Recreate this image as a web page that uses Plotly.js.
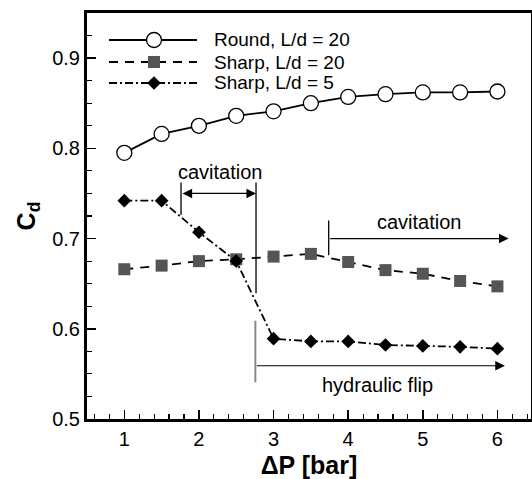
<!DOCTYPE html>
<html>
<head>
<meta charset="utf-8">
<script src="https://cdn.plot.ly/plotly-3.0.1.min.js"></script>
<style>html,body{margin:0;padding:0;background:#fff;}#chart{width:532px;height:479px;}</style>
</head>
<body>
<div id="chart"></div>
<script>
// Data
const deltaP = [1, 1.5, 2, 2.5, 3, 3.5, 4, 4.5, 5, 5.5, 6];
const roundLd20 = [0.795, 0.816, 0.825, 0.836, 0.841, 0.850, 0.857, 0.860, 0.862, 0.862, 0.863];
const sharpLd20 = [0.666, 0.670, 0.675, 0.677, 0.680, 0.683, 0.674, 0.665, 0.661, 0.653, 0.647];
const sharpLd5  = [0.742, 0.742, 0.707, 0.675, 0.589, 0.586, 0.586, 0.582, 0.581, 0.580, 0.578];
const seriesNames = ["Round, L/d = 20", "Sharp, L/d = 20", "Sharp, L/d = 5"];

// Annotation regions (ΔP, Cd)
const cav1 = {x0: 1.76, x1: 2.765, yArrow: 0.750, yTop: 0.762, yLeftBot: 0.726, yRightBot: 0.6395, label: "cavitation", lx: 2.29, ly: 0.774};
const cav2 = {x0: 3.739, x1: 6.15, yArrow: 0.700, yTop: 0.720, yBot: 0.6816, label: "cavitation", lx: 4.95, ly: 0.7185};
const flip = {x0: 2.756, x1: 6.10, yArrow: 0.559, yTop: 0.609, yBot: 0.5406, label: "hydraulic flip", lx: 4.39, ly: 0.5375};

const FONT = "Liberation Sans, Arial, Helvetica, sans-serif";
const TXT = 19;

const styles = [
  {line: {color: "#000", width: 1.8, dash: "solid"},
   marker: {symbol: "circle", size: 15, color: "#fff", line: {color: "#000", width: 1.3}}},
  {line: {color: "#000", width: 1.8, dash: "9px,7px"},
   marker: {symbol: "square", size: 12, color: "#555555", line: {width: 0}}},
  {line: {color: "#000", width: 1.8, dash: "8px,3px,2px,3px"},
   marker: {symbol: "diamond", size: 10.5, color: "#000", line: {width: 0}}}
];
const seriesY = [roundLd20, sharpLd20, sharpLd5];

const traces = seriesY.map((ys, i) => ({
  x: deltaP, y: ys, name: seriesNames[i], mode: "lines+markers",
  line: styles[i].line, marker: styles[i].marker, showlegend: false
}));

const shapes = [
  {type: "line", xref: "x", yref: "y", x0: cav1.x0, x1: cav1.x0, y0: cav1.yTop, y1: cav1.yLeftBot, line: {color: "#000", width: 1.3}},
  {type: "line", xref: "x", yref: "y", x0: cav1.x1, x1: cav1.x1, y0: cav1.yTop, y1: cav1.yRightBot, line: {color: "#000", width: 1.3}},
  {type: "line", xref: "x", yref: "y", x0: cav2.x0, x1: cav2.x0, y0: cav2.yTop, y1: cav2.yBot, line: {color: "#000", width: 1.3}},
  {type: "line", xref: "x", yref: "y", x0: flip.x0, x1: flip.x0, y0: flip.yTop, y1: flip.yBot, line: {color: "#888", width: 2}}
];

const annotations = [
  {xref: "x", yref: "y", axref: "x", ayref: "y", x: cav1.x1, y: cav1.yArrow, ax: cav1.x0, ay: cav1.yArrow,
   text: "", showarrow: true, arrowhead: 2, startarrowhead: 2, arrowside: "end+start", arrowsize: 1.6, arrowwidth: 1.2, arrowcolor: "#000"},
  {xref: "x", yref: "y", x: cav1.lx, y: cav1.ly, text: cav1.label, showarrow: false, font: {family: FONT, size: TXT + 1, color: "#000"}},
  {xref: "x", yref: "y", axref: "x", ayref: "y", x: cav2.x1, y: cav2.yArrow, ax: cav2.x0, ay: cav2.yArrow,
   text: "", showarrow: true, arrowhead: 2, arrowsize: 1.6, arrowwidth: 1.2, arrowcolor: "#000"},
  {xref: "x", yref: "y", x: cav2.lx, y: cav2.ly, text: cav2.label, showarrow: false, font: {family: FONT, size: TXT + 1, color: "#000"}},
  {xref: "x", yref: "y", axref: "x", ayref: "y", x: flip.x1, y: flip.yArrow, ax: flip.x0, ay: flip.yArrow,
   text: "", showarrow: true, arrowhead: 2, arrowsize: 1.6, arrowwidth: 1.2, arrowcolor: "#000"},
  {xref: "x", yref: "y", x: flip.lx, y: flip.ly, text: flip.label, showarrow: false, font: {family: FONT, size: TXT + 1, color: "#000"}}
];

// Custom legend (paper coordinates) built from the series styles and names
const legendRows = [0.9335, 0.8793, 0.8276];
const legLine = [0.0495, 0.2477], legMarkX = 0.1509, legTextX = 0.2815;
seriesNames.forEach((nm, i) => {
  const yy = legendRows[i];
  const st = styles[i];
  shapes.push({type: "line", xref: "paper", yref: "paper", x0: legLine[0], x1: legLine[1], y0: yy, y1: yy,
               line: {color: st.line.color, width: st.line.width, dash: st.line.dash}});
  const s = st.marker.size;
  const base = {xref: "paper", yref: "paper", xsizemode: "pixel", ysizemode: "pixel", xanchor: legMarkX, yanchor: yy};
  if (st.marker.symbol === "circle") {
    shapes.push(Object.assign({type: "circle", x0: -s/2, x1: s/2, y0: -s/2, y1: s/2,
      fillcolor: st.marker.color, line: {color: st.marker.line.color, width: st.marker.line.width}}, base));
  } else if (st.marker.symbol === "square") {
    shapes.push(Object.assign({type: "rect", x0: -s/2, x1: s/2, y0: -s/2, y1: s/2,
      fillcolor: st.marker.color, line: {width: 0}}, base));
  } else {
    const r = s * 0.65;
    shapes.push(Object.assign({type: "path", path: `M${-r},0L0,${r}L${r},0L0,${-r}Z`,
      fillcolor: st.marker.color, line: {width: 0}}, base));
  }
  annotations.push({xref: "paper", yref: "paper", x: legTextX, y: yy, xanchor: "left", yanchor: "middle",
    text: nm, showarrow: false, font: {family: FONT, size: TXT, color: "#000"}});
});

const layout = {
  width: 532, height: 479,
  margin: {l: 87, r: 1, t: 13, b: 60, pad: 0},
  paper_bgcolor: "#fff", plot_bgcolor: "#fff",
  font: {family: FONT, size: TXT, color: "#000"},
  showlegend: false,
  xaxis: {range: [0.5, 6.45], dtick: 1, tick0: 0, ticks: "inside", ticklen: 9, tickwidth: 1.5, tickcolor: "#000",
          showline: true, linewidth: 3, linecolor: "#000", mirror: true, showgrid: false, zeroline: false,
          minor: {dtick: 0.2, ticks: "inside", ticklen: 5, tickwidth: 1.2, tickcolor: "#000", showgrid: false},
          tickfont: {family: FONT, size: TXT + 1}, automargin: false,
          title: {text: "<b>ΔP [bar]</b>", font: {family: FONT, size: 25}, standoff: 12}},
  yaxis: {range: [0.5, 0.95], dtick: 0.1, tick0: 0, tickformat: ".1f", ticks: "inside", ticklen: 9, tickwidth: 1.5, tickcolor: "#000",
          showline: true, linewidth: 3, linecolor: "#000", mirror: true, showgrid: false, zeroline: false,
          minor: {dtick: 0.025, ticks: "inside", ticklen: 5, tickwidth: 1.2, tickcolor: "#000", showgrid: false},
          tickfont: {family: FONT, size: TXT + 1}, automargin: false,
          title: {text: "<b>C<sub>d</sub></b>", font: {family: FONT, size: 25}, standoff: 10}},
  shapes: shapes,
  annotations: annotations
};

Plotly.newPlot("chart", traces, layout, {staticPlot: true, displayModeBar: false});
</script>
</body>
</html>
